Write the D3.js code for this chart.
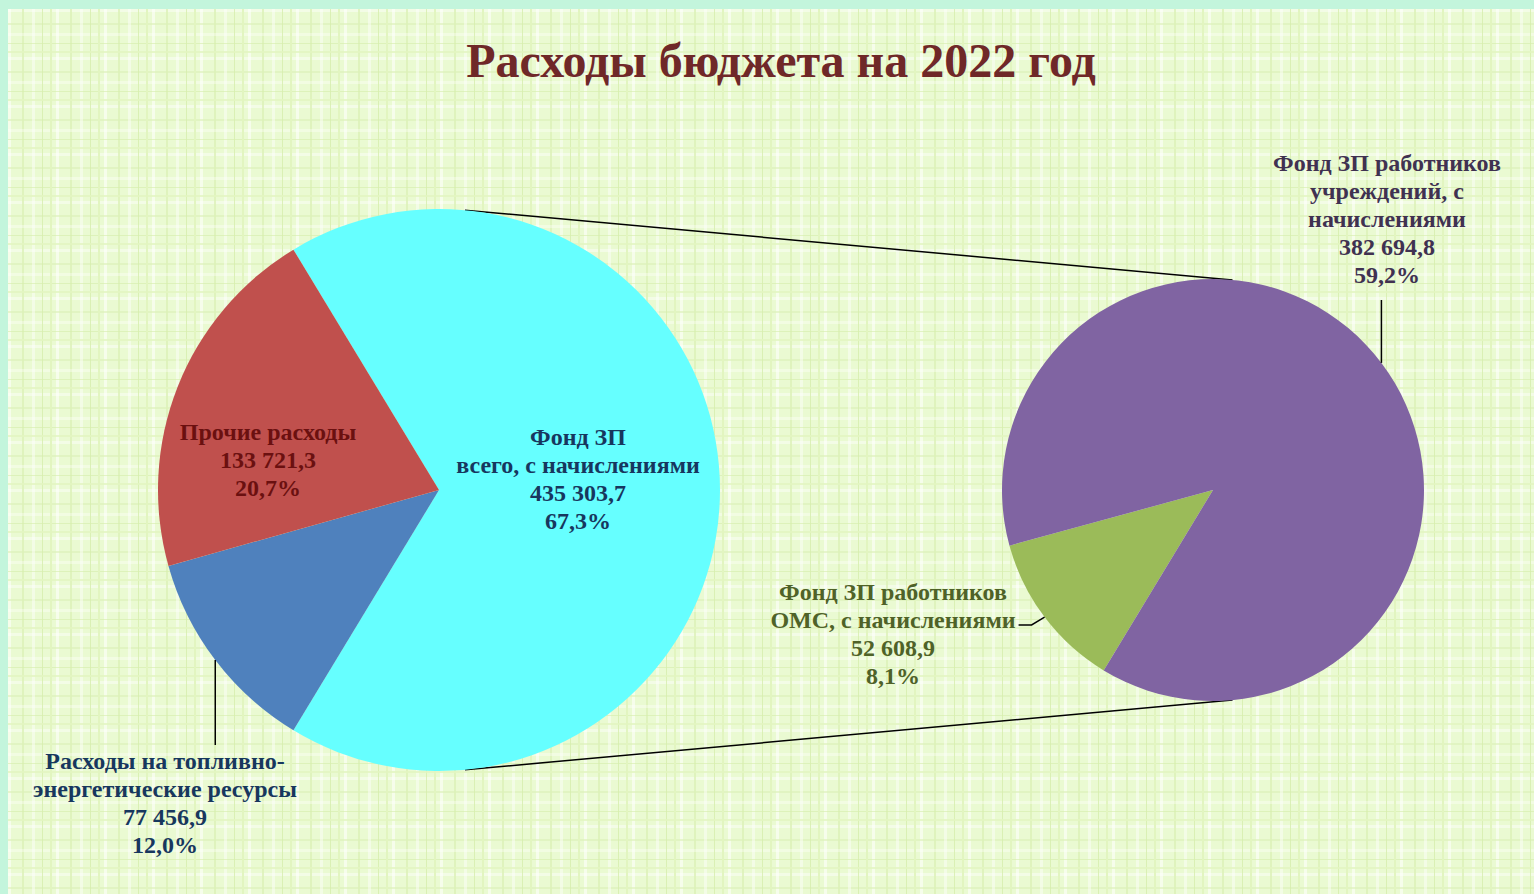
<!DOCTYPE html>
<html>
<head>
<meta charset="utf-8">
<script src="https://cdn.jsdelivr.net/npm/d3@7"></script>
<style>
  html, body { margin: 0; padding: 0; background: #c3f5dc; }
  svg { display: block; }
</style>
</head>
<body>
<svg id="chart" width="1534" height="894"></svg>
<script>
// main pie, clockwise from the exploded slice
const mainNames = [
  ["Фонд ЗП", "всего, с начислениями"],
  ["Расходы на топливно-", "энергетические ресурсы"],
  ["Прочие расходы"]
];
const mainValues = [435303.7, 77456.9, 133721.3];
// secondary pie (breakdown of the first slice)
const subNames = [
  ["Фонд ЗП работников", "ОМС, с начислениями"],
  ["Фонд ЗП работников", "учреждений, с", "начислениями"]
];
const subValues = [52608.9, 382694.8];
const title = "Расходы бюджета на 2022 год";

const W = 1534, H = 894;
const mainColors = ["#66ffff", "#4f81bd", "#c0504d"];
const mainText = ["#17375e", "#17375e", "#6b1010"];
const subColors = ["#9bbb59", "#8064a2"];
const subText = ["#4f6228", "#403151"];
const FONT = "'Liberation Serif', 'Times New Roman', serif";

const svg = d3.select("#chart");

// background plaid
const defs = svg.append("defs");
const pat = defs.append("pattern").attr("id", "plaid")
  .attr("patternUnits", "userSpaceOnUse").attr("width", 48).attr("height", 48)
  .attr("x", 8).attr("y", 9);
pat.append("rect").attr("width", 48).attr("height", 48).attr("fill", "#eafad2");
[[0, 3, "#ffffff", 0.55], [14, 2, "#dcf1b8", 0.8], [24, 3, "#ffffff", 0.45], [34, 1, "#d6eeac", 0.8], [42, 2, "#e2f5c0", 1]]
  .forEach(([o, w, c, op]) => {
    pat.append("rect").attr("x", o).attr("y", 0).attr("width", w).attr("height", 48).attr("fill", c).attr("opacity", op);
    pat.append("rect").attr("x", 0).attr("y", o).attr("width", 48).attr("height", w).attr("fill", c).attr("opacity", op * 0.8);
  });
svg.append("rect").attr("x", 8).attr("y", 9).attr("width", W - 8).attr("height", H - 9).attr("fill", "url(#plaid)");

svg.append("text").attr("x", 781).attr("y", 77).attr("text-anchor", "middle")
  .attr("font-family", FONT).attr("font-weight", "bold").attr("font-size", 48)
  .attr("fill", "#6f2828").text(title);

const total = d3.sum(mainValues);
const ru = d3.formatLocale({ decimal: ",", thousands: " ", grouping: [3], currency: ["", ""] });
const fmtVal = ru.format(",.1f");
const fmtPct = v => ru.format(".1f")(v * 100) + "%";

const mainC = [439, 490], mainR = 281;
const subC = [1213, 490], subR = 211;

const share0 = mainValues[0] / total;
const mainStart = Math.PI / 2 - share0 * Math.PI;
const mainPie = d3.pie().sort(null).startAngle(mainStart).endAngle(mainStart + 2 * Math.PI);
const mainArcs = mainPie(mainValues);
const subStart = mainArcs[0].endAngle;
const subPie = d3.pie().sort(null).startAngle(subStart).endAngle(subStart + 2 * Math.PI);
const subArcs = subPie(subValues);

const arcMain = d3.arc().innerRadius(0).outerRadius(mainR);
const arcSub = d3.arc().innerRadius(0).outerRadius(subR);

// connector lines between the pies
const ca = 5.3 * Math.PI / 180;
const pt = (c, r, a) => [c[0] + r * Math.sin(a), c[1] - r * Math.cos(a)];
[ca, Math.PI - ca].forEach(a => {
  const p1 = pt(mainC, mainR, a), p2 = pt(subC, subR, a);
  svg.append("line").attr("x1", p1[0]).attr("y1", p1[1]).attr("x2", p2[0]).attr("y2", p2[1])
    .attr("stroke", "#000").attr("stroke-width", 1.5);
});

svg.append("g").attr("transform", `translate(${mainC})`)
  .selectAll("path").data(mainArcs).join("path")
  .attr("d", arcMain).attr("fill", (d, i) => mainColors[i]);
svg.append("g").attr("transform", `translate(${subC})`)
  .selectAll("path").data(subArcs).join("path")
  .attr("d", arcSub).attr("fill", (d, i) => subColors[i]);

// labels
function label(x, y, lines, color) {
  const t = svg.append("text").attr("text-anchor", "middle")
    .attr("font-family", FONT).attr("font-weight", "bold").attr("font-size", 24).attr("fill", color);
  lines.forEach((s, k) => t.append("tspan").attr("x", x).attr("y", y + k * 28).text(s));
}
const mid = d => (d.startAngle + d.endAngle) / 2;

label(578, 445, [...mainNames[0], fmtVal(mainValues[0]), fmtPct(mainValues[0] / total)], mainText[0]);
label(268, 440, [...mainNames[2], fmtVal(mainValues[2]), fmtPct(mainValues[2] / total)], mainText[2]);
label(165, 769, [...mainNames[1], fmtVal(mainValues[1]), fmtPct(mainValues[1] / total)], mainText[1]);
label(1387, 171, [...subNames[1], fmtVal(subValues[1]), fmtPct(subValues[1] / total)], subText[1]);
label(893, 600, [...subNames[0], fmtVal(subValues[0]), fmtPct(subValues[0] / total)], subText[0]);

// leader lines
const lead = pts => svg.append("path").attr("d", d3.line()(pts))
  .attr("fill", "none").attr("stroke", "#000").attr("stroke-width", 1.5);
const pb = pt(mainC, mainR, mid(mainArcs[1]));
lead([pb, [pb[0], 745]]);
const pp = pt(subC, subR, mid(subArcs[1]));
lead([pp, [pp[0], 300]]);
const pg = pt(subC, subR, mid(subArcs[0]));
lead([pg, [pg[0] - 13, 625], [pg[0] - 26, 625]]);
</script>
</body>
</html>
